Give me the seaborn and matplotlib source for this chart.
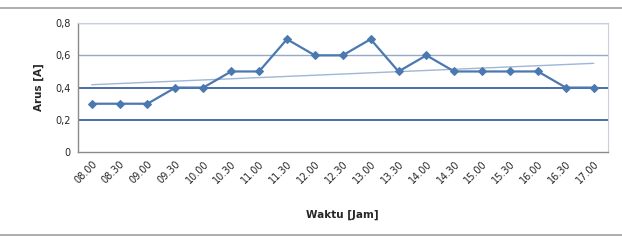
import matplotlib
matplotlib.use("Agg")
import matplotlib.pyplot as plt
import seaborn as sns
import numpy as np
import pandas as pd
from matplotlib.lines import Line2D

times = ["08.00", "08.30", "09.00", "09.30", "10.00", "10.30", "11.00", "11.30",
         "12.00", "12.30", "13.00", "13.30", "14.00", "14.30", "15.00", "15.30",
         "16.00", "16.30", "17.00"]
arus = [0.3, 0.3, 0.3, 0.4, 0.4, 0.5, 0.5, 0.7, 0.6, 0.6, 0.7, 0.5, 0.6, 0.5,
        0.5, 0.5, 0.5, 0.4, 0.4]
y_ticks = [0, 0.2, 0.4, 0.6, 0.8]
y_labels = ["0", "0,2", "0,4", "0,6", "0,8"]

sns.set_theme(style="white")
plt.rcParams['font.family'] = ['DejaVu Sans']

df = pd.DataFrame({"x": np.arange(len(times)), "arus": arus})

fig = plt.figure(figsize=(6.22, 2.43), dpi=100)
ax = fig.add_axes([0.125, 0.374, 0.852, 0.531])

# gridlines
for yv in y_ticks[1:]:
    if yv <= 0.4:
        ax.axhline(yv, color="#4a6fa5", lw=1.4, zorder=1)
    else:
        ax.axhline(yv, color="#94abc8", lw=1.0, zorder=1)

# trend line
coef = np.polyfit(df["x"], df["arus"], 1)
trend = np.polyval(coef, df["x"])
ax.plot(df["x"], trend, color="#9fb6d6", lw=1.0, zorder=2)

sns.lineplot(data=df, x="x", y="arus", ax=ax, color="#4a78b0", lw=1.6,
             marker="D", markersize=4.5, markeredgecolor="#4a78b0", zorder=3)

ax.set_xlim(-0.5, len(times) - 0.5)
ax.set_ylim(0, 0.8)
ax.set_xticks(range(len(times)))
ax.set_xticklabels(times, rotation=45, ha="right", rotation_mode="anchor", fontsize=7)
ax.set_yticks(y_ticks)
ax.set_yticklabels(y_labels, fontsize=7)
ax.tick_params(axis="both", length=0, pad=5)
ax.set_xlabel("Waktu [Jam]", fontsize=7.5, fontweight="bold", labelpad=17)
ax.set_ylabel("Arus [A]", fontsize=7.5, fontweight="bold", labelpad=8)

for s in ["top", "right"]:
    ax.spines[s].set_color("#c9cfd8")
    ax.spines[s].set_linewidth(0.8)
for s in ["left", "bottom"]:
    ax.spines[s].set_color("#8a8a8a")
    ax.spines[s].set_linewidth(1.0)

fig.add_artist(Line2D([0.0, 1.0], [1 - 8 / 243, 1 - 8 / 243], color="#a0a0a0", lw=1.2))
fig.add_artist(Line2D([0.0, 1.0], [1 - 235 / 243, 1 - 235 / 243], color="#a0a0a0", lw=1.2))

fig.savefig("out.png", dpi=100)
